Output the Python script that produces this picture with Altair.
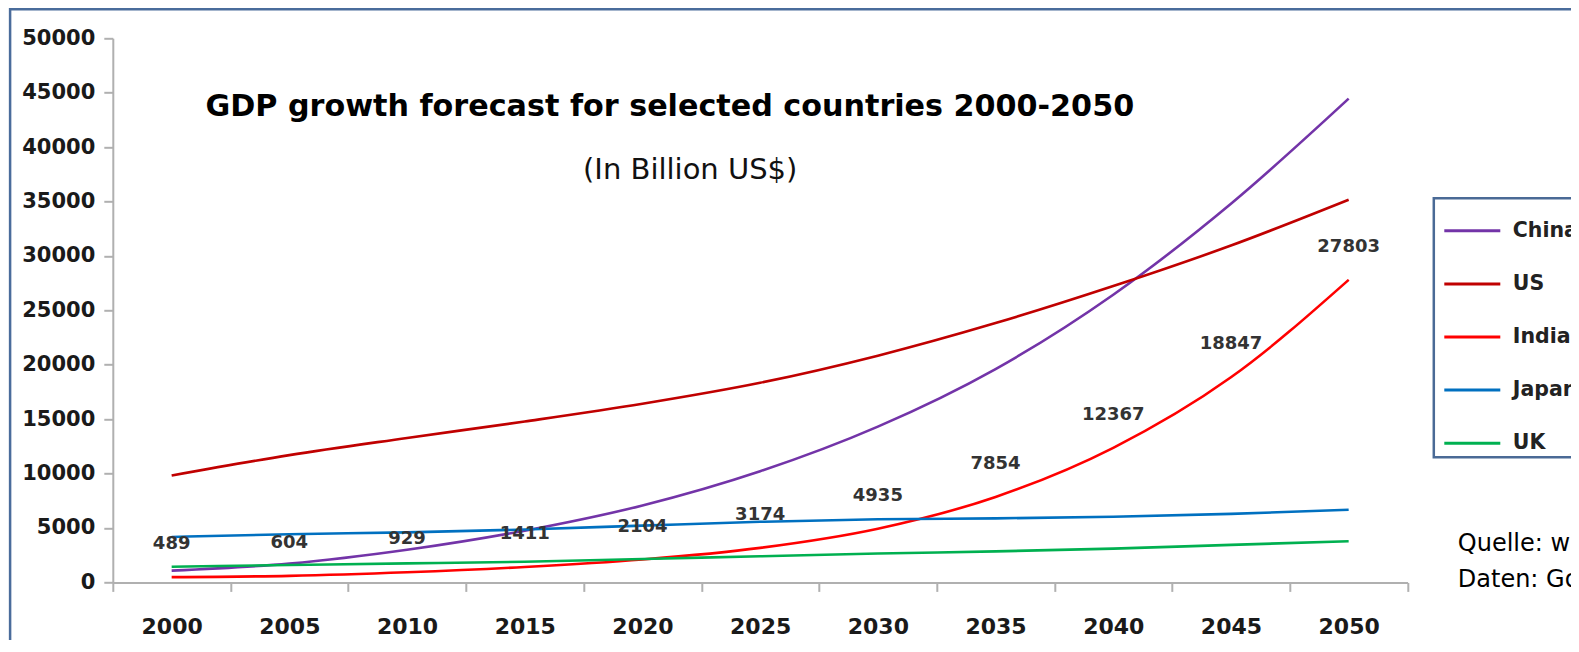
import altair as alt
import pandas as pd

years = [2000, 2005, 2010, 2015, 2020, 2025, 2030, 2035, 2040, 2045, 2050]
countries = ["China", "US", "India", "Japan", "UK"]
china = [1078, 1724, 2998, 4754, 7070, 10213, 14312, 19605, 26439, 34799, 44453]
us = [9825, 11697, 13271, 14786, 16415, 18340, 20833, 23828, 27229, 30956, 35165]
india = [489, 604, 929, 1411, 2104, 3174, 4935, 7854, 12367, 18847, 27803]
japan = [4176, 4427, 4601, 4858, 5221, 5567, 5810, 5882, 6039, 6297, 6673]
uk = [1437, 1600, 1750, 1900, 2150, 2400, 2650, 2850, 3100, 3450, 3782]
colors = ["#7334a8", "#c00000", "#ff0000", "#0070c0", "#00b050"]
y_ticks = list(range(0, 50001, 5000))

title_text = "GDP growth forecast for selected countries 2000-2050"
subtitle_text = "(In Billion US$)"
source_lines = ["Quelle: w", "Daten: Go"]

rows = []
for c, vals in zip(countries, [china, us, india, japan, uk]):
    for yr, v in zip(years, vals):
        rows.append({"Year": str(yr), "Country": c, "GDP": v})
df = pd.DataFrame(rows)
lab = pd.DataFrame({"Year": [str(y) for y in years], "GDP": india,
                    "Label": [str(v) for v in india]})

x_enc = alt.X(
    "Year:O",
    scale=alt.Scale(type="band", paddingInner=0, paddingOuter=0),
    bandPosition=0.5,
    axis=alt.Axis(title=None, tickBand="extent", labelAngle=0, tickSize=9,
                  labelPadding=25.5, labelFont="DejaVu Sans", labelFontWeight="bold",
                  labelFontSize=22, labelColor="#1a1a1a", domainColor="#b0b0b0",
                  tickColor="#b0b0b0", domainWidth=2, tickWidth=2, grid=False),
)
y_enc = alt.Y(
    "GDP:Q",
    scale=alt.Scale(domain=[0, 50000], nice=False),
    axis=alt.Axis(title=None, values=y_ticks, format="d", grid=False, tickSize=9,
                  labelPadding=9, labelFont="DejaVu Sans", labelFontWeight="bold",
                  labelFontSize=21, labelColor="#1a1a1a", domainColor="#b0b0b0",
                  tickColor="#b0b0b0", domainWidth=2, tickWidth=2),
)

lines = alt.Chart(df).mark_line(strokeWidth=2.6, interpolate="monotone").encode(
    x=x_enc,
    y=y_enc,
    color=alt.Color(
        "Country:N",
        scale=alt.Scale(domain=countries, range=colors),
        sort=countries,
        legend=alt.Legend(
            title=None, orient="none", legendX=1321, legendY=160,
            symbolType="stroke", symbolSize=3136, symbolStrokeWidth=3,
            symbolOffset=6, padding=3, rowPadding=13.1, labelOffset=11,
            labelFont="DejaVu Sans", labelFontWeight="bold", labelFontSize=20.5,
            labelColor="#222222", strokeColor="#4a6a96", fillColor="white",
        ),
    ),
)

labels = alt.Chart(lab).mark_text(
    dy=-33, font="DejaVu Sans", fontWeight="bold", fontSize=18, color="#333333"
).encode(x=x_enc, y=y_enc, text="Label:N")

title = alt.Chart(pd.DataFrame({"t": [title_text]})).mark_text(
    font="DejaVu Sans", fontWeight="bold", fontSize=30.2, color="#000000",
    align="center", baseline="alphabetic"
).encode(x=alt.value(557), y=alt.value(77.6), text="t:N")

subtitle = alt.Chart(pd.DataFrame({"t": [subtitle_text]})).mark_text(
    font="DejaVu Sans", fontSize=29, color="#111111",
    align="center", baseline="alphabetic"
).encode(x=alt.value(577.4), y=alt.value(141), text="t:N")

src1 = alt.Chart(pd.DataFrame({"t": [source_lines[0]]})).mark_text(
    font="DejaVu Sans", fontSize=24, color="#000000", align="left", baseline="alphabetic"
).encode(x=alt.value(1345), y=alt.value(513), text="t:N")
src2 = alt.Chart(pd.DataFrame({"t": [source_lines[1]]})).mark_text(
    font="DejaVu Sans", fontSize=24, color="#000000", align="left", baseline="alphabetic"
).encode(x=alt.value(1345), y=alt.value(549), text="t:N")

border = alt.Chart(pd.DataFrame({"a": [0]})).mark_rect(
    fill="transparent", stroke="#4a6c9b", strokeWidth=2.5
).encode(x=alt.value(-102.7), x2=alt.value(1460), y=alt.value(-29), y2=alt.value(604))

chart = alt.layer(border, lines, labels, title, subtitle, src1, src2).properties(
    width=1294.7, height=544.1,
    autosize=alt.AutoSizeParams(type="none"),
    padding={"left": 104.8, "top": 30.3, "right": 163.5, "bottom": 57.6},
).configure_view(stroke=None).configure_legend(strokeWidth=2.5)

chart.save("out.html", embed_options={"renderer": "svg", "actions": False})
